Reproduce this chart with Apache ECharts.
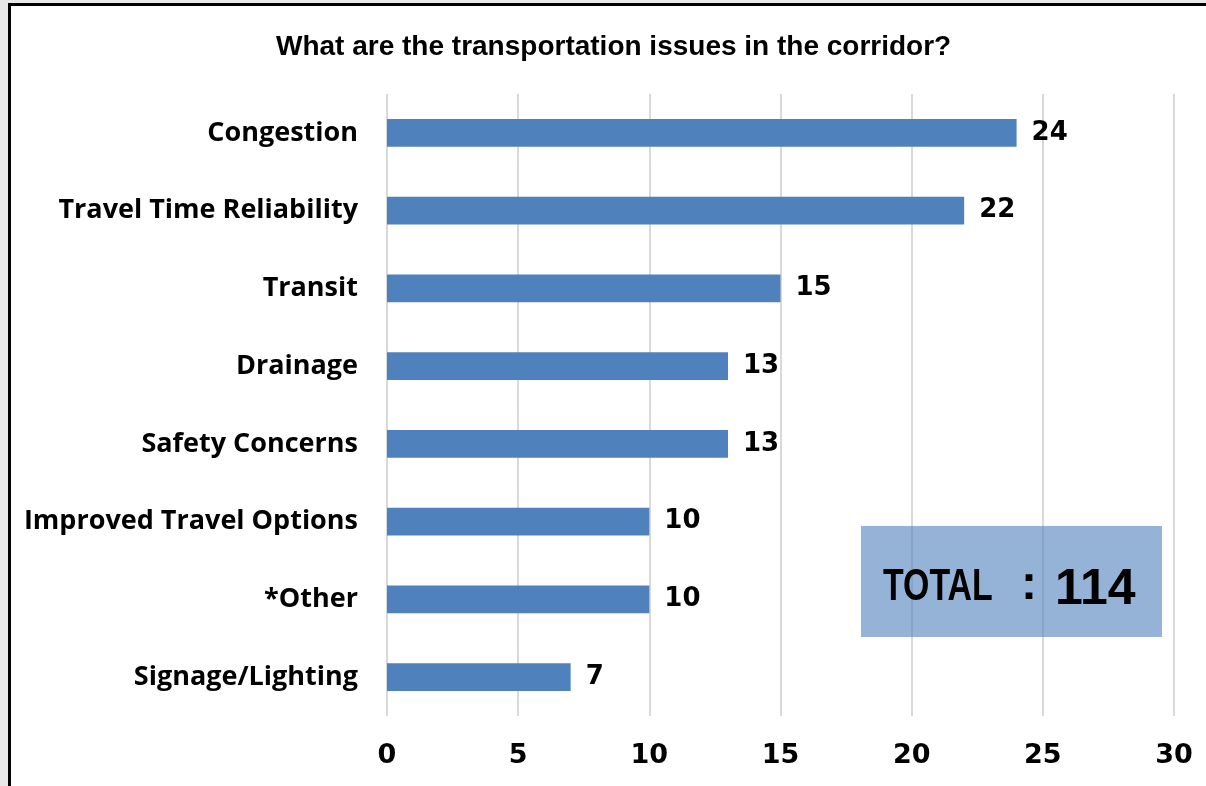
<!DOCTYPE html>
<html>
<head>
<meta charset="utf-8">
<script src="https://cdn.jsdelivr.net/npm/echarts@6/dist/echarts.min.js"></script>
<style>
  html, body { margin: 0; padding: 0; background: #e8e8e8; }
  #frame {
    position: absolute; left: 8px; top: 3px; width: 1198px; height: 783px;
    background: #fff; border-left: 3px solid #000; border-top: 3px solid #000;
    box-sizing: border-box;
  }
  #chart { position: absolute; left: -11px; top: -6px; width: 1206px; height: 786px; }
</style>
</head>
<body>
<div id="frame"><div id="chart"></div></div>
<script>
var categories = ['Congestion', 'Travel Time Reliability', 'Transit', 'Drainage',
  'Safety Concerns', 'Improved Travel Options', '*Other', 'Signage/Lighting']
var counts = [24, 22, 15, 13, 13, 10, 10, 7]
var xTicks = [0, 5, 10, 15, 20, 25, 30]
var totalLabel = 'TOTAL'
var totalValue = '114'

var chart = echarts.init(document.getElementById('chart'))
chart.setOption({
  animation: false,
  title: {
    text: 'What are the transportation issues in the corridor?',
    left: 271,
    top: 28,
    textStyle: { fontFamily: 'Liberation Sans', fontWeight: 'bold', fontSize: 28, color: '#000' }
  },
  grid: { left: 387, right: 32, top: 94, bottom: 70, containLabel: false },
  xAxis: {
    type: 'value',
    min: xTicks[0],
    max: xTicks[xTicks.length - 1],
    interval: 5,
    axisLine: { show: false },
    axisTick: { show: false },
    splitLine: { lineStyle: { color: '#d9d9d9', width: 2 } },
    axisLabel: { margin: 26, color: '#000', fontSize: 27, fontWeight: 'bold', fontFamily: 'DejaVu Sans' }
  },
  yAxis: {
    type: 'category',
    data: categories,
    inverse: true,
    axisLine: { show: false },
    axisTick: { show: false },
    axisLabel: { margin: 29, color: '#000', fontSize: 27, fontWeight: 'bold', fontFamily: 'Open Sans' }
  },
  series: [{
    type: 'bar',
    data: counts,
    barWidth: '36%',
    itemStyle: { color: '#4f81bd' },
    label: {
      show: true, position: 'right', distance: 15,
      color: '#000', fontSize: 26, fontWeight: 'bold', fontFamily: 'DejaVu Sans'
    }
  }],
  graphic: [{
    type: 'group',
    left: 861, top: 526,
    z: 100,
    children: [
      { type: 'rect', z: 100, shape: { x: 0, y: 0, width: 301, height: 111 }, style: { fill: 'rgba(79,129,189,0.6)' } },
      { type: 'text', z: 101, x: 22, y: 62, scaleX: 0.77, style: { text: totalLabel, fill: '#000', font: 'bold 44px "Liberation Sans"', verticalAlign: 'middle' } },
      { type: 'text', z: 101, x: 160, y: 60, style: { text: ':', fill: '#000', font: 'bold 48px "Liberation Sans"', verticalAlign: 'middle' } },
      { type: 'text', z: 101, x: 194, y: 64, style: { text: totalValue, fill: '#000', font: 'bold 50px "Liberation Sans"', verticalAlign: 'middle' } }
    ]
  }]
})
</script>
</body>
</html>
